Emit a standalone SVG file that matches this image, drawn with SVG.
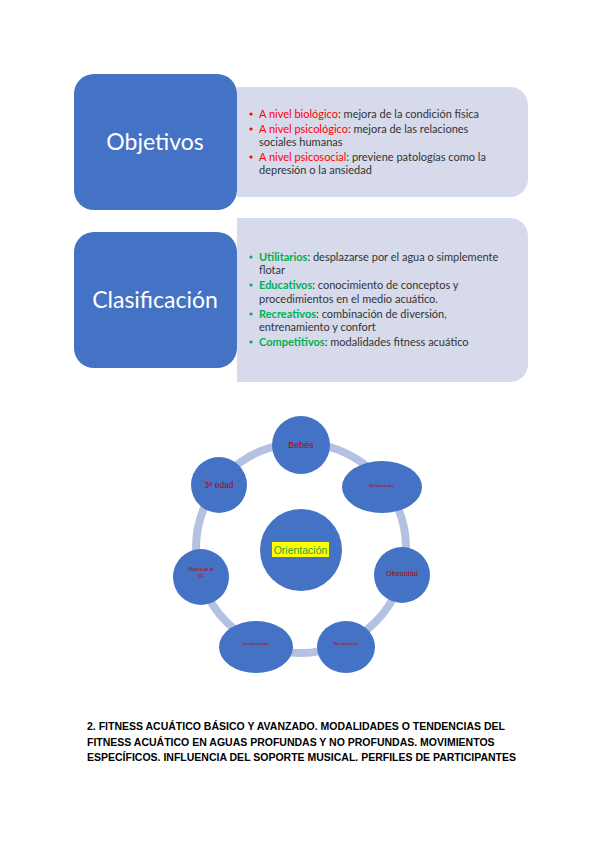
<svg xmlns="http://www.w3.org/2000/svg" width="600" height="848" viewBox="0 0 600 848">
<style>
.blue{fill:#4472C4;}
.panel{fill:#D6DAEB;}
.title{font-family:"Lato","Liberation Sans",sans-serif;fill:#fff;font-size:23px;text-anchor:middle;}
.t{font-family:"Lato","Liberation Sans",sans-serif;font-size:11px;fill:#333;}
.red{fill:#FF0000;}
.grn{fill:#00B050;font-weight:bold;}
.node{fill:#4472C4;}
.nl{font-family:"Liberation Sans",sans-serif;fill:#C00000;text-anchor:middle;}
.hd{font-family:"Liberation Sans",sans-serif;font-weight:bold;font-size:10.5px;fill:#000;}
</style>
<rect width="600" height="848" fill="#fff"/>
<g id="objetivos">
<path class="panel" d="M237 87 H510 A18 18 0 0 1 528 105 V179 A18 18 0 0 1 510 197 H237 Z"/>
<rect class="blue" x="74" y="74" width="163" height="136" rx="20"/>
<text class="title" x="155" y="150">Objetivos</text>
<g class="t">
<circle cx="251" cy="114" r="1.6" fill="#FF0000"/>
<circle cx="251" cy="129" r="1.6" fill="#FF0000"/>
<circle cx="251" cy="157" r="1.6" fill="#FF0000"/>
<text x="259" y="118"><tspan class="red">A nivel biológico</tspan>: mejora de la condición física</text>
<text x="259" y="133"><tspan class="red">A nivel psicológico</tspan>: mejora de las relaciones</text>
<text x="259" y="146">sociales humanas</text>
<text x="259" y="161"><tspan class="red">A nivel psicosocial</tspan>: previene patologías como la</text>
<text x="259" y="174">depresión o la ansiedad</text>
</g>
</g>
<g id="clasificacion">
<path class="panel" d="M237 218 H510 A18 18 0 0 1 528 236 V364 A18 18 0 0 1 510 382 H237 Z"/>
<rect class="blue" x="74" y="232" width="163" height="136" rx="20"/>
<text class="title" x="155" y="308">Clasificación</text>
<g class="t">
<circle cx="251" cy="257" r="1.6" fill="#00B050"/>
<circle cx="251" cy="285" r="1.6" fill="#00B050"/>
<circle cx="251" cy="314" r="1.6" fill="#00B050"/>
<circle cx="251" cy="342" r="1.6" fill="#00B050"/>
<text x="259" y="261"><tspan class="grn">Utilitarios</tspan>: desplazarse por el agua o simplemente</text>
<text x="259" y="274">flotar</text>
<text x="259" y="289"><tspan class="grn">Educativos</tspan>: conocimiento de conceptos y</text>
<text x="259" y="303">procedimientos en el medio acuático.</text>
<text x="259" y="318"><tspan class="grn">Recreativos</tspan>: combinación de diversión,</text>
<text x="259" y="331">entrenamiento y confort</text>
<text x="259" y="346"><tspan class="grn">Competitivos</tspan>: modalidades fitness acuático</text>
</g>
</g>
<g id="connectors">
<circle cx="301" cy="548" r="105" fill="none" stroke="#B4C1E2" stroke-width="8"/>
</g>
<g id="orientacion">
<circle class="node" cx="301" cy="550" r="41"/>
<rect x="272" y="542" width="57" height="15" fill="#FFFF00"/>
<text x="300.5" y="554" font-family="Liberation Sans,sans-serif" font-size="10.5" fill="#2EA043" text-anchor="middle">Orientación</text>
</g>
<g id="bebes"><circle class="node" cx="301" cy="445" r="29"/><text class="nl" x="301" y="448" font-size="9">Bebés</text></g>
<g id="embarazadas"><ellipse class="node" cx="382" cy="487" rx="40" ry="26"/><text class="nl" x="382" y="487" font-size="4">Embarazadas</text></g>
<g id="obesidad"><circle class="node" cx="402" cy="575" r="28"/><text class="nl" x="402" y="576" font-size="7.5">Obesidad</text></g>
<g id="rehabilitacion"><ellipse class="node" cx="346" cy="647" rx="29" ry="26"/><text class="nl" x="346" y="645" font-size="4">Rehabilitación</text></g>
<g id="discapacitados"><ellipse class="node" cx="256" cy="647" rx="37" ry="26"/><text class="nl" x="256" y="645" font-size="4">Discapacitados</text></g>
<g id="mejora"><circle class="node" cx="201" cy="577" r="28"/><text class="nl" x="201" y="571" font-size="4.5">Mejora de la</text><text class="nl" x="201" y="578" font-size="4.5">CF</text></g>
<g id="tercera"><circle class="node" cx="219" cy="485" r="28"/><text class="nl" x="219" y="488" font-size="8.5">3ª edad</text></g>
<g id="heading">
<text class="hd" x="87" y="730">2. FITNESS ACUÁTICO BÁSICO Y AVANZADO. MODALIDADES O TENDENCIAS DEL</text>
<text class="hd" x="87" y="746">FITNESS ACUÁTICO EN AGUAS PROFUNDAS Y NO PROFUNDAS. MOVIMIENTOS</text>
<text class="hd" x="87" y="761">ESPECÍFICOS. INFLUENCIA DEL SOPORTE MUSICAL. PERFILES DE PARTICIPANTES</text>
</g>
</svg>
